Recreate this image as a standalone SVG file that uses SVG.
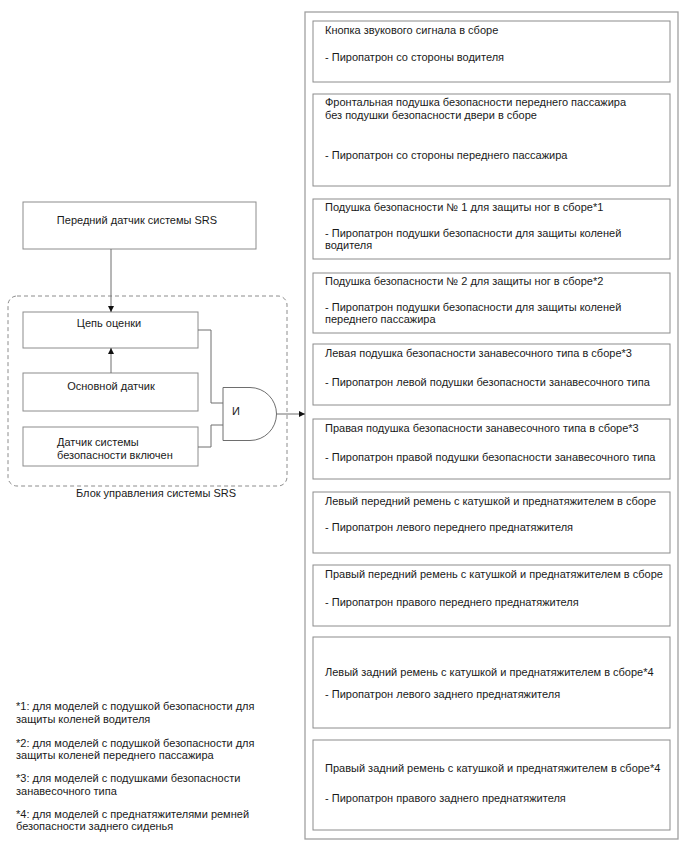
<svg xmlns="http://www.w3.org/2000/svg" width="688" height="852" viewBox="0 0 688 852">
<style>
text{font-family:"Liberation Sans",Arial,sans-serif;font-size:11px;fill:#1a1a1a}
.box{fill:#fff;stroke:#8c8c8c;stroke-width:1}
.outer{fill:#fff;stroke:#a0a0a0;stroke-width:1.3}
.wire{fill:none;stroke:#6e6e6e;stroke-width:1}
.c{text-anchor:middle}
</style>
<defs>
<marker id="ah" viewBox="0 0 10 10" refX="10" refY="5" markerWidth="8" markerHeight="6" markerUnits="userSpaceOnUse" orient="auto">
<path d="M0,0 L10,5 L0,10 z" fill="#111"/>
</marker>
</defs>
<rect width="688" height="852" fill="#fff"/>

<g id="outer-box"><rect class="outer" x="305" y="12" width="373" height="827"/></g>

<g id="n1"><rect class="box" x="313" y="21" width="357" height="61"/>
<text x="325" y="34">Кнопка звукового сигнала в сборе</text>
<text x="325" y="61">- Пиропатрон со стороны водителя</text></g>

<g id="n2"><rect class="box" x="313" y="94" width="357" height="92"/>
<text x="325" y="106">Фронтальная подушка безопасности переднего пассажира</text>
<text x="325" y="119">без подушки безопасности двери в сборе</text>
<text x="325" y="159">- Пиропатрон со стороны переднего пассажира</text></g>

<g id="n3"><rect class="box" x="313" y="199" width="357" height="60"/>
<text x="325" y="210.5">Подушка безопасности № 1 для защиты ног в сборе*1</text>
<text x="325" y="237">- Пиропатрон подушки безопасности для защиты коленей</text>
<text x="325" y="249">водителя</text></g>

<g id="n4"><rect class="box" x="313" y="273" width="357" height="60"/>
<text x="325" y="284.5">Подушка безопасности № 2 для защиты ног в сборе*2</text>
<text x="325" y="311">- Пиропатрон подушки безопасности для защиты коленей</text>
<text x="325" y="323">переднего пассажира</text></g>

<g id="n5"><rect class="box" x="313" y="344" width="357" height="61"/>
<text x="325" y="357">Левая подушка безопасности занавесочного типа в сборе*3</text>
<text x="325" y="386">- Пиропатрон левой подушки безопасности занавесочного типа</text></g>

<g id="n6"><rect class="box" x="313" y="419" width="357" height="60"/>
<text x="325" y="432">Правая подушка безопасности занавесочного типа в сборе*3</text>
<text x="325" y="461">- Пиропатрон правой подушки безопасности занавесочного типа</text></g>

<g id="n7"><rect class="box" x="313" y="492" width="357" height="61"/>
<text x="325" y="504.5">Левый передний ремень с катушкой и преднатяжителем в сборе</text>
<text x="325" y="531">- Пиропатрон левого переднего преднатяжителя</text></g>

<g id="n8"><rect class="box" x="313" y="565" width="357" height="61"/>
<text x="325" y="578">Правый передний ремень с катушкой и преднатяжителем в сборе</text>
<text x="325" y="606">- Пиропатрон правого переднего преднатяжителя</text></g>

<g id="n9"><rect class="box" x="313" y="637" width="357" height="91"/>
<text x="325" y="676">Левый задний ремень с катушкой и преднатяжителем в сборе*4</text>
<text x="325" y="698">- Пиропатрон левого заднего преднатяжителя</text></g>

<g id="n10"><rect class="box" x="313" y="740" width="357" height="90"/>
<text x="325" y="772">Правый задний ремень с катушкой и преднатяжителем в сборе*4</text>
<text x="325" y="802">- Пиропатрон правого заднего преднатяжителя</text></g>

<g id="srs-unit"><rect x="8" y="296" width="279" height="190" rx="9" ry="9" fill="none" stroke="#8c8c8c" stroke-width="1" stroke-dasharray="4,3"/>
<text class="c" x="156" y="497">Блок управления системы SRS</text></g>

<g id="front-sensor"><rect class="box" x="23" y="202" width="233" height="47"/>
<text class="c" x="137" y="224">Передний датчик системы SRS</text></g>

<g id="eval"><rect class="box" x="23" y="312" width="175" height="36"/>
<text class="c" x="109" y="327">Цепь оценки</text></g>

<g id="main-sensor"><rect class="box" x="23" y="373" width="175" height="38"/>
<text class="c" x="111" y="390">Основной датчик</text></g>

<g id="safing"><rect class="box" x="23" y="427" width="175" height="39"/>
<text x="57" y="446">Датчик системы</text>
<text x="57" y="459">безопасности включен</text></g>

<g id="and-gate"><path d="M223,387.5 H250 A26.5,26.5 0 0 1 250,440.5 H223 Z" fill="#fff" stroke="#6e6e6e" stroke-width="1"/>
<text x="232" y="415" style="font-size:11px">И</text></g>

<g id="connectors">
<line class="wire" x1="111" y1="249" x2="111" y2="312" marker-end="url(#ah)"/>
<line class="wire" x1="111" y1="373" x2="111" y2="348" marker-end="url(#ah)"/>
<polyline class="wire" points="198,330 211,330 211,403 223,403"/>
<polyline class="wire" points="198,447 211,447 211,425 223,425"/>
<line class="wire" x1="277" y1="414" x2="305" y2="414" marker-end="url(#ah)"/>
</g>

<g id="footnotes">
<text x="16" y="710">*1: для моделей с подушкой безопасности для</text>
<text x="16" y="723">защиты коленей водителя</text>
<text x="16" y="747">*2: для моделей с подушкой безопасности для</text>
<text x="16" y="759">защиты коленей переднего пассажира</text>
<text x="16" y="782">*3: для моделей с подушками безопасности</text>
<text x="16" y="795">занавесочного типа</text>
<text x="16" y="818">*4: для моделей с преднатяжителями ремней</text>
<text x="16" y="830">безопасности заднего сиденья</text>
</g>
</svg>
